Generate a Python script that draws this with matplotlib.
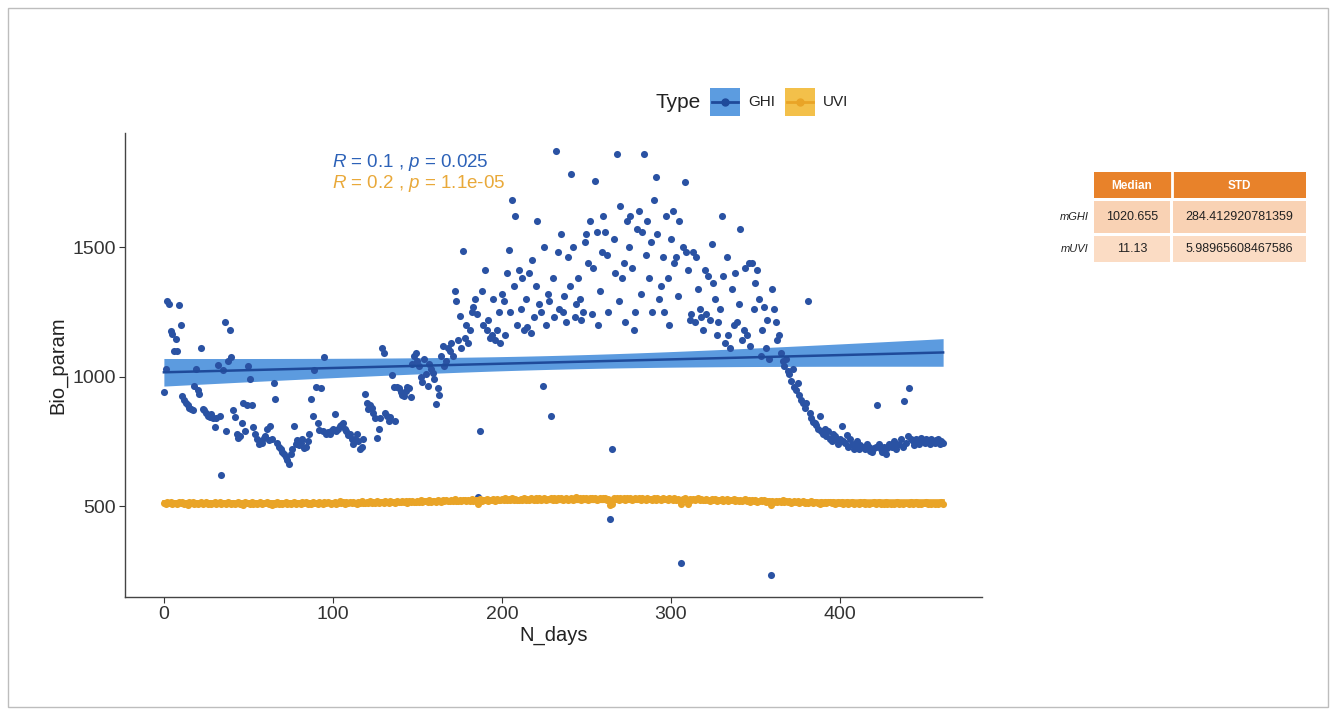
import numpy as np
import matplotlib.pyplot as plt
from matplotlib.patches import Rectangle
from matplotlib.lines import Line2D

plt.rcParams['font.family'] = ['Liberation Sans', 'DejaVu Sans']
plt.rcParams['mathtext.fontset'] = 'custom'
plt.rcParams['mathtext.it'] = 'Liberation Sans:italic'
plt.rcParams['mathtext.rm'] = 'Liberation Sans'

# daily GHI values, day 0..461
ghi = [
    940, 1030, 1290, 1280, 1175, 1165, 1100, 1145, 1100, 1275,
    1200, 925, 910, 900, 890, 880, 875, 870, 965, 1030,
    950, 935, 1110, 875, 870, 860, 850, 845, 855, 840,
    805, 840, 1045, 850, 622, 1025, 1210, 790, 1060, 1180,
    1075, 870, 845, 780, 765, 770, 820, 900, 790, 890,
    1040, 990, 890, 805, 780, 760, 740, 750, 745, 765,
    770, 800, 755, 810, 760, 975, 915, 745, 730, 720,
    710, 700, 690, 680, 665, 700, 720, 810, 740, 755,
    735, 745, 760, 725, 730, 750, 780, 915, 850, 1025,
    960, 820, 795, 955, 790, 1077, 780, 785, 780, 790,
    800, 857, 790, 800, 810, 815, 820, 800, 790, 775,
    780, 760, 740, 760, 780, 750, 720, 730, 760, 935,
    900, 875, 890, 880, 860, 840, 765, 800, 840, 1110,
    1090, 860, 850, 830, 845, 1005, 960, 830, 960, 955,
    940, 930, 925, 945, 960, 955, 920, 1050, 1080, 1090,
    1060, 1040, 1000, 980, 1070, 1010, 965, 1050, 1030, 1015,
    990, 895, 955, 930, 1080, 1120, 1040, 1060, 1110, 1100,
    1130, 1080, 1330, 1290, 1140, 1235, 1110, 1485, 1150, 1200,
    1130, 1180, 1250, 1270, 1300, 1240, 535, 790, 1330, 1200,
    1410, 1180, 1220, 1150, 1160, 1300, 1140, 1180, 1250, 1130,
    1320, 1290, 1160, 1400, 1490, 1250, 1680, 1350, 1620, 1200,
    1410, 1260, 1380, 1180, 1300, 1190, 1400, 1170, 1450, 1230,
    1350, 1600, 1280, 1250, 965, 1500, 1200, 1320, 1290, 850,
    1380, 1230, 1870, 1480, 1260, 1550, 1250, 1310, 1210, 1460,
    1350, 1780, 1500, 1230, 1280, 1380, 1300, 1220, 1250, 1520,
    1550, 1440, 1600, 1240, 1420, 1755, 1560, 1200, 1330, 1480,
    1620, 1560, 1470, 1250, 450, 720, 1530, 1400, 1860, 1290,
    1660, 1380, 1440, 1210, 1600, 1500, 1620, 1420, 1180, 1250,
    1570, 1640, 1320, 1560, 1860, 1470, 1600, 1380, 1520, 1250,
    1680, 1770, 1550, 1300, 1350, 1460, 1250, 1620, 1380, 1200,
    1530, 1640, 1440, 1460, 1310, 1600, 280, 1500, 1750, 1480,
    1410, 1220, 1240, 1480, 1210, 1460, 1340, 1260, 1230, 1180,
    1410, 1240, 1390, 1220, 1510, 1360, 1300, 1160, 1210, 1260,
    1620, 1390, 1130, 1460, 1160, 1110, 1340, 1200, 1400, 1210,
    1280, 1570, 1140, 1180, 1420, 1160, 1440, 1120, 1440, 1260,
    1360, 1410, 1300, 1080, 1180, 1270, 1110, 1220, 1070, 233,
    1340, 1260, 1210, 1140, 1160, 1090, 1060, 1040, 1070, 1020,
    1010, 985, 1030, 960, 950, 975, 930, 910, 900, 880,
    900, 1290, 860, 840, 825, 820, 815, 800, 850, 790,
    780, 800, 770, 790, 760, 750, 780, 770, 755, 740,
    760, 810, 750, 745, 775, 730, 760, 740, 720, 740,
    750, 720, 735, 730, 730, 720, 740, 730, 715, 710,
    725, 730, 890, 740, 720, 710, 730, 700, 725, 740,
    735, 730, 750, 720, 735, 740, 760, 730, 907, 745,
    770, 957, 760, 750, 735, 760, 755, 740, 765, 750,
    745, 760, 755, 740, 760, 750, 745, 755, 760, 740, 750, 745,
]

# daily UVI values as plotted
uvi = [
    513, 508, 516, 511, 518, 509, 514, 512, 507, 515,
    511, 517, 509, 513, 506, 515, 512, 518, 510, 514,
    509, 513, 516, 508, 512, 517, 510, 514, 507, 513,
    515, 509, 512, 518, 507, 511, 514, 509, 516, 512,
    510, 514, 508, 513, 517, 509, 512, 506, 515, 511,
    513, 508, 516, 510, 514, 507, 512, 517, 509, 513,
    511, 515, 508, 512, 506, 514, 510, 516, 509, 513,
    508, 512, 515, 509, 513, 507, 511, 516, 510, 514,
    512, 509, 515, 511, 517, 508, 513, 510, 516, 512,
    514, 510, 516, 512, 508, 515, 511, 517, 513, 509,
    513, 517, 510, 514, 519, 511, 515, 509, 516, 513,
    515, 511, 518, 513, 510, 516, 512, 519, 514, 511,
    516, 513, 519, 512, 517, 514, 520, 511, 516, 518,
    514, 519, 516, 512, 520, 515, 518, 513, 521, 517,
    515, 520, 517, 522, 514, 519, 516, 521, 518, 515,
    521, 517, 523, 516, 519, 522, 518, 524, 517, 520,
    522, 518, 525, 520, 517, 523, 521, 526, 519, 522,
    524, 520, 527, 522, 519, 525, 521, 526, 523, 520,
    526, 522, 528, 521, 525, 523, 508, 527, 522, 525,
    523, 528, 521, 526, 524, 529, 522, 527, 525, 523,
    528, 524, 530, 523, 527, 525, 531, 524, 528, 526,
    524, 529, 526, 531, 523, 528, 525, 530, 527, 524,
    530, 526, 532, 525, 528, 531, 524, 529, 527, 532,
    526, 530, 525, 531, 528, 533, 526, 529, 531, 525,
    529, 532, 526, 530, 534, 527, 531, 525, 530, 528,
    532, 526, 530, 533, 527, 531, 525, 529, 532, 527,
    530, 533, 526, 529, 504, 509, 531, 527, 530, 526,
    532, 527, 530, 525, 531, 528, 533, 526, 529, 531,
    527, 530, 525, 531, 528, 526, 532, 527, 529, 525,
    530, 526, 531, 528, 524, 530, 527, 529, 525, 531,
    528, 524, 530, 526, 529, 525, 507, 527, 530, 524,
    510, 528, 525, 529, 523, 527, 530, 524, 528, 526,
    523, 528, 525, 521, 527, 524, 529, 522, 526, 523,
    527, 522, 525, 528, 521, 526, 523, 527, 520, 525,
    522, 526, 519, 524, 527, 521, 525, 518, 523, 520,
    524, 518, 522, 525, 519, 523, 517, 521, 519, 506,
    521, 517, 522, 516, 520, 518, 523, 515, 519, 517,
    520, 514, 518, 521, 515, 519, 513, 517, 520, 514,
    518, 512, 516, 519, 513, 517, 515, 511, 507, 516,
    513, 517, 511, 515, 518, 512, 516, 510, 514, 517,
    511, 515, 509, 514, 517, 510, 513, 516, 509, 514,
    512, 508, 515, 511, 516, 509, 513, 507, 514, 511,
    515, 509, 512, 516, 508, 513, 510, 515, 507, 512,
    510, 514, 508, 513, 516, 509, 512, 507, 514, 511,
    513, 508, 515, 510, 512, 516, 509, 513, 507, 514,
    511, 515, 509, 512, 508, 514, 510, 513, 507, 512, 515, 510,
]

days = np.arange(len(ghi))

stat_labels = [r"$R$ = 0.1 , $p$ = 0.025", r"$R$ = 0.2 , $p$ = 1.1e-05"]
row_names = ["mGHI", "mUVI"]
col_names = ["Median", "STD"]
cell_text = [["1020.655", "284.412920781359"], ["11.13", "5.98965608467586"]]

GHI_PT = '#2A52A3'
GHI_LINE = '#1F4A9A'
GHI_BAND = '#4A90DC'
UVI_COL = '#E9A427'
UVI_BAND = '#F3C04A'


def fit_band(x, y):
    x = np.asarray(x, float)
    y = np.asarray(y, float)
    b, a = np.polyfit(x, y, 1)
    xs = np.linspace(x.min(), x.max(), 100)
    fit = a + b * xs
    resid = y - (a + b * x)
    s = np.sqrt(np.sum(resid ** 2) / (len(x) - 2))
    se = s * np.sqrt(1 / len(x) + (xs - x.mean()) ** 2 / np.sum((x - x.mean()) ** 2))
    return xs, fit, fit - 1.965 * se, fit + 1.965 * se


fig = plt.figure(figsize=(13.36, 7.15), dpi=100)
ax = fig.add_axes([125 / 1336, 1 - 597 / 715, (982 - 125) / 1336, (597 - 133) / 715])

ax.scatter(days, ghi, s=26, color=GHI_PT, linewidths=0, zorder=3)
xs, fit, lo, hi = fit_band(days, ghi)
ax.fill_between(xs, lo, hi, color=GHI_BAND, alpha=0.9, linewidth=0, zorder=2)
ax.plot(xs, fit, color=GHI_LINE, lw=1.8, zorder=4)

ax.scatter(days, uvi, s=26, color=UVI_COL, linewidths=0, zorder=3)
xs, fit, lo, hi = fit_band(days, uvi)
ax.fill_between(xs, lo, hi, color=UVI_BAND, alpha=0.9, linewidth=0, zorder=2)
ax.plot(xs, fit, color=UVI_COL, lw=2.5, zorder=4)

ax.set_xlim(-23, 484)
ax.set_ylim(150, 1940)
ax.set_xticks([0, 100, 200, 300, 400])
ax.set_yticks([500, 1000, 1500])
ax.set_xlabel("N_days", fontsize=14.5, color='#222222', labelpad=2)
ax.set_ylabel("Bio_param", fontsize=14.5, color='#222222', labelpad=4)
ax.tick_params(labelsize=14, colors='#333333', length=4, width=0.8, pad=2.5,
               labelcolor='#333333')
for side in ['top', 'right']:
    ax.spines[side].set_visible(False)
for side in ['left', 'bottom']:
    ax.spines[side].set_color('#444444')
    ax.spines[side].set_linewidth(1.0)

ax.text(0.242, 0.937, stat_labels[0], transform=ax.transAxes, fontsize=13.5,
        color='#2D62B8', va='center')
ax.text(0.242, 0.892, stat_labels[1], transform=ax.transAxes, fontsize=13.5,
        color='#E9A93A', va='center')

# overlay in pixel coordinates for legend, table and frame
ov = fig.add_axes([0, 0, 1, 1], zorder=5)
ov.set_xlim(0, 1336)
ov.set_ylim(715, 0)
ov.axis('off')
ov.patch.set_alpha(0)

ov.add_patch(Rectangle((8, 8), 1320, 699, fill=False, edgecolor='#BDBDBD', lw=1))

# legend
ov.text(655, 102, "Type", fontsize=15, va='center', color='#222222')
for x0, fc, lc, name in [(710, '#5C9CE0', GHI_LINE, "GHI"), (785, UVI_BAND, UVI_COL, "UVI")]:
    ov.add_patch(Rectangle((x0, 88), 30, 28, facecolor=fc, edgecolor='none'))
    ov.add_line(Line2D([x0 + 2, x0 + 28], [102, 102], color=lc, lw=2))
    ov.plot([x0 + 15], [102], 'o', color=lc, ms=5)
    ov.text(x0 + 38, 102, name, fontsize=11, va='center', color='#222222')

# summary table
col_x = [(1094, 1170), (1173, 1306)]
ov.add_patch(Rectangle((1094, 172), 212, 26, facecolor='#E8822A', edgecolor='none'))
ov.add_line(Line2D([1171.5, 1171.5], [172, 198], color='white', lw=2))
for (x0, x1), name in zip(col_x, col_names):
    ov.text((x0 + x1) / 2, 186, name, fontsize=8.5, color='white', weight='bold',
            ha='center', va='center')
row_y = [(201, 233), (236, 262)]
row_fc = ['#F9D2B4', '#FBDCC4']
for (y0, y1), fc, rname, vals in zip(row_y, row_fc, row_names, cell_text):
    for (x0, x1), v in zip(col_x, vals):
        ov.add_patch(Rectangle((x0, y0), x1 - x0, y1 - y0, facecolor=fc, edgecolor='none'))
        ov.text((x0 + x1) / 2, (y0 + y1) / 2, v, fontsize=9, color='#222222',
                ha='center', va='center')
    ov.text(1089, (y0 + y1) / 2, rname, fontsize=8, style='italic', color='#222222',
            ha='right', va='center')

fig.savefig("out.png", dpi=100)
